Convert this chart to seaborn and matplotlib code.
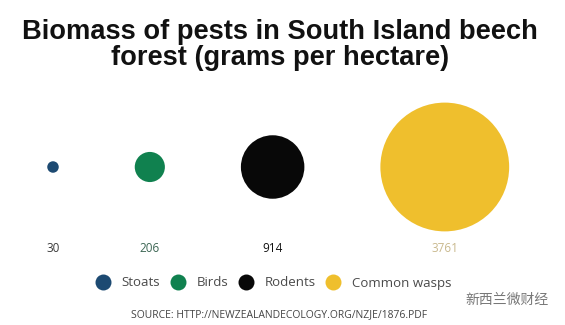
import numpy as np
import pandas as pd
import matplotlib
matplotlib.use("Agg")
import matplotlib.pyplot as plt
from matplotlib.lines import Line2D
import seaborn as sns

# ---- data ----
categories = ["Stoats", "Birds", "Rodents", "Common wasps"]
values = [30, 206, 914, 3761]
value_labels = ["30", "206", "914", "3761"]
colors = ["#1d4a72", "#10814f", "#080808", "#efbf2d"]
label_colors = ["#3a3a3a", "#3c6654", "#111111", "#c9b98e"]
title = "Biomass of pests in South Island beech\nforest (grams per hectare)"
source = "SOURCE: HTTP://NEWZEALANDECOLOGY.ORG/NZJE/1876.PDF"
watermark = "新西兰微财经"

W, H = 565, 325
sns.set_theme(style="white")
plt.rcParams['font.family'] = ['Open Sans', 'DejaVu Sans']

fig = plt.figure(figsize=(W / 100, H / 100), dpi=100)
ax = fig.add_axes([0, 0, 1, 1])

# radius in pixels proportional to sqrt(value) (area ~ value)
k = 1.05
radii = [k * np.sqrt(v) for v in values]
gap = 76
xs = []
cur = 53 - radii[0]
for r in radii:
    xs.append(cur + r)
    cur += 2 * r + gap
cy = 167

df = pd.DataFrame({"cat": categories, "val": values, "x": xs, "y": [cy] * 4})
sizes = {c: (2 * r * 0.72) ** 2 for c, r in zip(categories, radii)}
sns.scatterplot(data=df, x="x", y="y", hue="cat", size="cat", sizes=sizes,
                palette=dict(zip(categories, colors)), linewidth=0,
                legend=False, ax=ax)
ax.set_xlim(0, W)
ax.set_ylim(H, 0)
ax.axis("off")

for x, lab, c in zip(xs, value_labels, label_colors):
    ax.text(x, 248, lab, ha="center", va="center", fontsize=8.5, color=c)

fig.text(280 / W, 1 - 45 / H, title, ha="center", va="center",
         fontsize=19.6, fontweight="bold", family=["Liberation Sans"],
         color="#111111", linespacing=0.98)

handles = [Line2D([], [], marker="o", linestyle="none", markersize=11.5,
                  markerfacecolor=c, markeredgewidth=0) for c in colors]
fig.legend(handles, categories, loc="center", ncol=4, frameon=False,
           bbox_to_anchor=(273 / W, 1 - 283 / H), fontsize=9.5,
           handletextpad=0.75, columnspacing=0.7, labelcolor="#4a4a4a",
           handlelength=1.3, borderpad=0)

fig.text(279 / W, 1 - 315 / H, source, ha="center", va="center",
         fontsize=7.5, color="#444444")
fig.text(465 / W, 1 - 300 / H, watermark, ha="left", va="center",
         fontsize=10, color="#777777",
         family=["Noto Sans CJK SC", "DejaVu Sans"])

fig.savefig("out.png", dpi=100, facecolor="white")
